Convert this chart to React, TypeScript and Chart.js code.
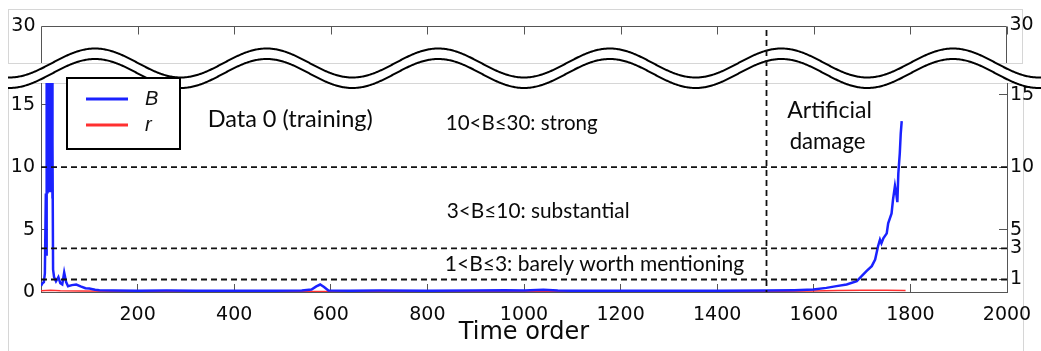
import React, { useEffect, useRef } from 'react';
import { Chart, registerables } from 'chart.js';

Chart.register(...registerables);

// ---------- data ----------
const B_TIME = [0, 3, 6, 8, 10, 11, 11.5, 12, 12.5, 13, 13.5, 14, 14.5, 15, 15.5, 16, 16.5, 17, 17.5, 18, 18.5, 19, 19.5, 20, 20.5, 21, 21.5, 22, 22.5, 23, 23.5, 24, 25, 27, 31, 36, 40, 44, 48, 52, 56, 64, 73, 82, 92, 100, 112, 121, 150, 200, 260, 320, 400, 480, 540, 560, 570, 578, 586, 595, 640, 700, 800, 900, 960, 1000, 1040, 1070, 1100, 1200, 1300, 1400, 1500, 1560, 1599, 1626, 1647, 1668, 1689, 1699, 1709, 1720, 1727, 1733, 1737, 1740, 1744, 1751, 1754, 1761, 1764, 1768, 1771, 1773, 1775, 1778, 1780, 1782];
const B_VALUES = [0.5, 0.7, 0.8, 1.5, 7.9, 3, 12, 18, 8, 19, 8.5, 20, 9, 21, 8, 19, 9.5, 22, 8, 20, 9, 21, 8.5, 19, 9, 20, 8, 18, 8.5, 17, 7.5, 12, 1.8, 1.2, 0.86, 1.2, 0.7, 0.6, 1.56, 0.8, 0.46, 0.55, 0.6, 0.45, 0.3, 0.28, 0.18, 0.14, 0.12, 0.1, 0.12, 0.1, 0.11, 0.1, 0.12, 0.2, 0.45, 0.6, 0.4, 0.12, 0.1, 0.12, 0.1, 0.12, 0.15, 0.12, 0.18, 0.12, 0.1, 0.1, 0.11, 0.1, 0.12, 0.15, 0.2, 0.33, 0.47, 0.6, 0.87, 1.27, 1.67, 2.07, 2.6, 3.67, 4.2, 3.9, 4.3, 4.7, 5.5, 6.3, 7.4, 8.5, 7.8, 7.2, 9.5, 11.1, 12.7, 13.7];
const R_TIME = [0, 20, 40, 80, 150, 300, 500, 700, 900, 1100, 1300, 1500, 1600, 1650, 1700, 1750, 1790];
const R_VALUES = [0.1, 0.15, 0.1, 0.08, 0.06, 0.05, 0.05, 0.05, 0.05, 0.05, 0.05, 0.05, 0.08, 0.12, 0.15, 0.15, 0.12];

const SERIES_LABELS = ['B', 'r'];
const X_TICKS = [200, 400, 600, 800, 1000, 1200, 1400, 1600, 1800, 2000];
const LEFT_TICKS = [0, 5, 10, 15];
const RIGHT_TICKS = [1, 3.5, 5, 10, 15.8];
const RIGHT_TICK_LABELS = ['1', '3', '5', '10', '15'];
const BREAK_TICK_LABEL = '30';
const THRESHOLDS = [1, 3.5, 10];
const DAMAGE_START = 1500;
const X_MIN = 0;
const X_MAX = 2000;
const Y_MIN = 0;
const Y_MAX = 16.75;
const X_TITLE = 'Time order';

const ANNOTATIONS = [
  { text: 'Data 0 (training)', x: 345, y: 13.8, size: 23.5 },
  { text: '10<B≤30: strong', x: 838, y: 13.5, size: 20.5 },
  { text: '3<B≤10: substantial', x: 840, y: 6.45, size: 20.8 },
  { text: '1<B≤3: barely worth mentioning', x: 836, y: 2.25, size: 21 },
  { text: 'Artificial', x: 1545, y: 14.5, size: 23 },
  { text: 'damage', x: 1550, y: 12.05, size: 22.2 },
];

// ---------- styles ----------
const BLUE = '#1a22ff';
const RED = '#ff3030';
const AXIS_COLOR = '#555';
const TEXT_COLOR = '#0a0a0a';
const FRAME_COLOR = '#d6d6d6';
const TICK_FONT = { family: 'DejaVu Sans', size: 19 };
const NOTE_FAMILY = 'Lato';

const TOP_PANEL = { top: 26, bottom: 63 };
const WAVE = { start: 8, center: 63, amp: 14.5, period: 171.6, peak: 95, gap: 10.5 };
const LEGEND_BOX = { x: 67, y: 78, w: 113, h: 71 };

const brokenAxisPlugin = {
  id: 'brokenAxis',
  beforeDraw(chart: any) {
    const ctx = chart.ctx;
    const H = chart.height;
    ctx.save();
    ctx.strokeStyle = FRAME_COLOR;
    ctx.lineWidth = 1;
    ctx.strokeRect(8.5, 9.5, 1014, 54);
    ctx.beginPath();
    ctx.moveTo(8.5, H);
    ctx.lineTo(8.5, 83.5);
    ctx.lineTo(1023.5, 83.5);
    ctx.lineTo(1023.5, H);
    ctx.stroke();
    ctx.restore();
  },
  afterDraw(chart: any) {
    const ctx = chart.ctx;
    const xs = chart.scales.x;
    const ys = chart.scales.y;
    const { left, right, bottom } = chart.chartArea;
    const W = chart.width;
    ctx.save();

    // annotations
    ctx.fillStyle = TEXT_COLOR;
    ctx.textAlign = 'left';
    ctx.textBaseline = 'middle';
    for (const a of ANNOTATIONS) {
      ctx.font = `${a.size}px ${NOTE_FAMILY}`;
      ctx.fillText(a.text, xs.getPixelForValue(a.x), ys.getPixelForValue(a.y));
    }

    // top panel frame
    const lx = Math.round(left) + 0.5;
    const rx = Math.round(right) - 0.5;
    const ty = TOP_PANEL.top + 0.5;
    ctx.strokeStyle = AXIS_COLOR;
    ctx.lineWidth = 1;
    ctx.beginPath();
    ctx.moveTo(lx, TOP_PANEL.bottom);
    ctx.lineTo(lx, ty);
    ctx.lineTo(rx, ty);
    ctx.lineTo(rx, TOP_PANEL.bottom);
    for (const v of X_TICKS) {
      const px = Math.round(xs.getPixelForValue(v)) + 0.5;
      ctx.moveTo(px, ty);
      ctx.lineTo(px, ty + 8);
    }
    ctx.stroke();
    ctx.fillStyle = TEXT_COLOR;
    ctx.font = `${TICK_FONT.size}px "${TICK_FONT.family}"`;
    ctx.textBaseline = 'middle';
    ctx.textAlign = 'right';
    ctx.fillText(BREAK_TICK_LABEL, lx - 6, TOP_PANEL.top);
    ctx.textAlign = 'left';
    ctx.fillText(BREAK_TICK_LABEL, rx + 3, TOP_PANEL.top - 1);

    // wave (axis break)
    const upper = (x: number) =>
      WAVE.center - WAVE.amp * Math.cos((2 * Math.PI * (x - WAVE.peak)) / WAVE.period);
    ctx.beginPath();
    for (let x = WAVE.start; x <= W; x += 1) {
      if (x === WAVE.start) ctx.moveTo(x, upper(x));
      else ctx.lineTo(x, upper(x));
    }
    for (let x = W; x >= WAVE.start; x -= 1) ctx.lineTo(x, upper(x) + WAVE.gap);
    ctx.closePath();
    ctx.fillStyle = '#fff';
    ctx.fill();
    ctx.strokeStyle = '#000';
    ctx.lineWidth = 2;
    for (const off of [0, WAVE.gap]) {
      ctx.beginPath();
      for (let x = WAVE.start; x <= W; x += 1) {
        if (x === WAVE.start) ctx.moveTo(x, upper(x) + off);
        else ctx.lineTo(x, upper(x) + off);
      }
      ctx.stroke();
    }

    // vertical dashed line at damage start
    const dx = Math.round(xs.getPixelForValue(DAMAGE_START)) + 0.5;
    ctx.setLineDash([6, 4]);
    ctx.lineWidth = 1.8;
    ctx.strokeStyle = '#111';
    ctx.beginPath();
    ctx.moveTo(dx, TOP_PANEL.top + 4);
    ctx.lineTo(dx, bottom);
    ctx.stroke();
    ctx.setLineDash([]);

    // legend
    const lb = LEGEND_BOX;
    ctx.fillStyle = '#fff';
    ctx.fillRect(lb.x, lb.y, lb.w, lb.h);
    ctx.strokeStyle = '#000';
    ctx.lineWidth = 2;
    ctx.strokeRect(lb.x, lb.y, lb.w, lb.h);
    const dsets = chart.data.datasets.filter((d: any) => SERIES_LABELS.includes(d.label));
    dsets.forEach((d: any, i: number) => {
      const yy = lb.y + 21 + i * 26;
      ctx.strokeStyle = d.borderColor;
      ctx.lineWidth = 3;
      ctx.beginPath();
      ctx.moveTo(lb.x + 19, yy);
      ctx.lineTo(lb.x + 61, yy);
      ctx.stroke();
      ctx.fillStyle = '#111';
      ctx.font = 'italic 20px "Liberation Sans"';
      ctx.textAlign = 'left';
      ctx.textBaseline = 'middle';
      ctx.fillText(d.label, lb.x + 78, yy);
    });

    ctx.restore();
  },
};

const zeroPad = (s: any) => {
  s.paddingLeft = 0;
  s.paddingRight = 0;
  s.paddingTop = 0;
  s.paddingBottom = 0;
};

export default function App() {
  const ref = useRef<HTMLCanvasElement | null>(null);

  useEffect(() => {
    if (!ref.current) return;
    const thresholdSets = THRESHOLDS.map((t) => ({
      label: 'threshold ' + t,
      data: [
        { x: X_MIN, y: t },
        { x: X_MAX, y: t },
      ],
      borderColor: '#111',
      borderWidth: 1.8,
      borderDash: [6, 4],
      pointRadius: 0,
      order: 0,
    }));
    const chart = new Chart(ref.current, {
      type: 'line',
      data: {
        datasets: [
          {
            label: SERIES_LABELS[0],
            data: B_TIME.map((x, i) => ({ x, y: B_VALUES[i] })),
            borderColor: BLUE,
            borderWidth: 2.5,
            pointRadius: 0,
            tension: 0,
            order: 1,
          },
          {
            label: SERIES_LABELS[1],
            data: R_TIME.map((x, i) => ({ x, y: R_VALUES[i] })),
            borderColor: RED,
            borderWidth: 1.5,
            pointRadius: 0,
            tension: 0,
            order: 2,
          },
          ...thresholdSets,
        ],
      },
      options: {
        responsive: false,
        animation: false,
        layout: { padding: { top: 83, left: 0, right: 0, bottom: 0 } },
        plugins: { legend: { display: false }, tooltip: { enabled: false } },
        scales: {
          x: {
            type: 'linear',
            min: X_MIN,
            max: X_MAX,
            afterBuildTicks: (s: any) => {
              s.ticks = X_TICKS.map((v) => ({ value: v }));
            },
            afterFit: (s: any) => {
              s.height = 59;
              zeroPad(s);
            },
            border: { display: true, color: AXIS_COLOR, width: 1 },
            grid: { display: true, drawOnChartArea: false, drawTicks: true, tickLength: -8, color: AXIS_COLOR },
            ticks: {
              autoSkip: false,
              maxRotation: 0,
              padding: 20,
              color: TEXT_COLOR,
              font: TICK_FONT,
              callback: (v: any) => String(v),
            },
            title: {
              display: true,
              text: X_TITLE,
              color: TEXT_COLOR,
              font: { family: 'DejaVu Sans', size: 24 },
              padding: { top: 0, bottom: 4 },
            },
          },
          y: {
            type: 'linear',
            position: 'left',
            min: Y_MIN,
            max: Y_MAX,
            afterBuildTicks: (s: any) => {
              s.ticks = LEFT_TICKS.map((v) => ({ value: v }));
            },
            afterFit: (s: any) => {
              s.width = 41;
              zeroPad(s);
            },
            border: { display: true, color: AXIS_COLOR, width: 1 },
            grid: { display: true, drawOnChartArea: false, drawTicks: true, tickLength: -7, color: AXIS_COLOR },
            ticks: { autoSkip: false, padding: 13, color: TEXT_COLOR, font: TICK_FONT },
          },
          yR: {
            type: 'linear',
            position: 'right',
            min: Y_MIN,
            max: Y_MAX,
            afterBuildTicks: (s: any) => {
              s.ticks = RIGHT_TICKS.map((v) => ({ value: v }));
            },
            afterFit: (s: any) => {
              s.width = 34;
              zeroPad(s);
            },
            border: { display: true, color: AXIS_COLOR, width: 1 },
            grid: { display: true, drawOnChartArea: false, drawTicks: true, tickLength: -8, color: AXIS_COLOR },
            ticks: {
              autoSkip: false,
              padding: 11,
              color: TEXT_COLOR,
              font: TICK_FONT,
              callback: (_v: any, i: number) => RIGHT_TICK_LABELS[i],
            },
          },
        },
      },
      plugins: [brokenAxisPlugin],
    } as any);
    return () => chart.destroy();
  }, []);

  return (
    <div style={{ position: 'absolute', left: 0, top: 0, width: 1041, height: 351, background: '#fff' }}>
      <canvas ref={ref} width={1041} height={351} style={{ display: 'block' }} />
    </div>
  );
}
